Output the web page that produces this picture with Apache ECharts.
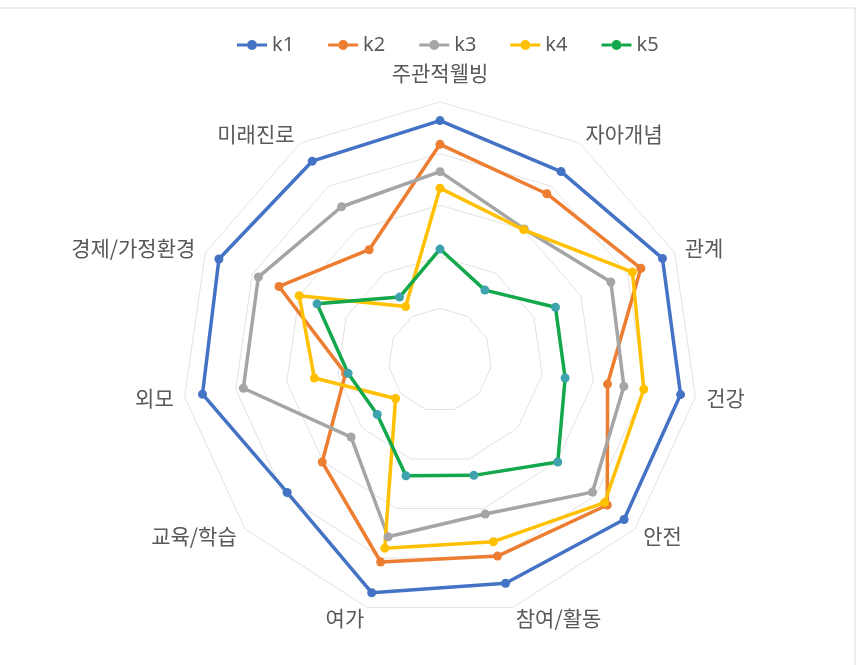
<!DOCTYPE html>
<html>
<head>
<meta charset="utf-8">
<script src="https://cdn.jsdelivr.net/npm/echarts@6/dist/echarts.min.js"></script>
<style>
  html, body { margin: 0; padding: 0; background: #ffffff; }
  #chart { width: 860px; height: 665px; }
</style>
</head>
<body>
<div id="chart"></div>
<script>
// Indicators, listed clockwise starting from the top
const indicators = ['주관적웰빙', '자아개념', '관계', '건강', '안전', '참여/활동', '여가', '교육/학습', '외모', '경제/가정환경', '미래진로'];

// Series values in the same (clockwise) order
const k1 = [4.64, 4.34, 4.74, 4.71, 4.72, 4.51, 4.70, 3.92, 4.65, 4.71, 4.58];
const k2 = [4.18, 3.83, 4.28, 3.28, 4.29, 3.96, 4.08, 3.02, 1.85, 3.43, 2.54];
const k3 = [3.65, 3.02, 3.64, 3.60, 3.91, 3.11, 3.57, 2.28, 3.85, 3.87, 3.53];
const k4 = [3.33, 3.00, 4.10, 3.99, 4.22, 3.67, 3.80, 1.14, 2.46, 3.00, 1.23];
const k5 = [2.15, 1.61, 2.46, 2.45, 3.02, 2.33, 2.34, 1.61, 1.80, 2.62, 1.45];

const seriesNames = ['k1', 'k2', 'k3', 'k4', 'k5'];
const seriesValues = [k1, k2, k3, k4, k5];

// Scale of the radial axis
const axisMax = 5;
const ringCount = 5;

const lineColors = ['#4472C4', '#ED7D31', '#A5A5A5', '#FFC000', '#12A84B'];
const markerColors = ['#4472C4', '#ED7D31', '#A5A5A5', '#FFC000', '#3FA3AE'];

// ECharts lays indicators out counter-clockwise, so keep the first one on top
// and reverse the rest to run clockwise.
const order = [0];
for (let i = indicators.length - 1; i >= 1; i--) order.push(i);
const reorder = arr => order.map(i => arr[i]);

// Legend icon: a short line with a dot in its middle
const legendIcon = 'path://M0,3.5H10V6.5H0Z M20,3.5H30V6.5H20Z M20,5A5,5,0,1,1,10,5A5,5,0,1,1,20,5Z';

const labelFont = '"Noto Sans CJK KR", sans-serif';
const labelColor = '#595959';
const labelSize = 21;

const chart = echarts.init(document.getElementById('chart'), null, { renderer: 'canvas' });

chart.setOption({
  backgroundColor: '#ffffff',
  animation: false,
  textStyle: { fontFamily: labelFont },
  graphic: [{
    type: 'rect',
    shape: { x: -2, y: 8, width: 857, height: 670 },
    style: { fill: 'none', stroke: '#D9D9D9', lineWidth: 1 },
    silent: true,
    z: -10
  }],
  legend: {
    left: 232,
    top: 30,
    itemWidth: 30,
    itemHeight: 10,
    itemGap: 34,
    icon: legendIcon,
    textStyle: { color: labelColor, fontSize: 20, fontFamily: '"Noto Sans", sans-serif' },
    data: seriesNames.map((n, i) => ({ name: n, itemStyle: { color: lineColors[i] } }))
  },
  radar: {
    center: [440, 360],
    radius: 258,
    startAngle: 90,
    splitNumber: ringCount,
    shape: 'polygon',
    nameGap: 11,
    axisName: {
      color: labelColor,
      fontSize: labelSize,
      fontFamily: labelFont,
      formatter: function (name) {
        // lift the top label a little further above the outer ring
        return name === indicators[0] ? '{top|' + name + '}' : name;
      },
      rich: {
        top: { color: labelColor, fontSize: labelSize, fontFamily: labelFont, padding: [0, 0, 7, 0] }
      }
    },
    axisLine: { show: false },
    axisTick: { show: false },
    axisLabel: { show: false },
    splitArea: { show: false },
    splitLine: { lineStyle: { color: '#E3E3E3', width: 1 } },
    indicator: reorder(indicators).map(name => ({ name: name, min: 0, max: axisMax }))
  },
  series: [{
    type: 'radar',
    symbol: 'circle',
    symbolSize: 9,
    data: seriesValues.map((vals, i) => ({
      name: seriesNames[i],
      value: reorder(vals),
      lineStyle: { color: lineColors[i], width: 3.5 },
      itemStyle: { color: markerColors[i], borderColor: markerColors[i], borderWidth: 0 }
    }))
  }]
});
</script>
</body>
</html>
